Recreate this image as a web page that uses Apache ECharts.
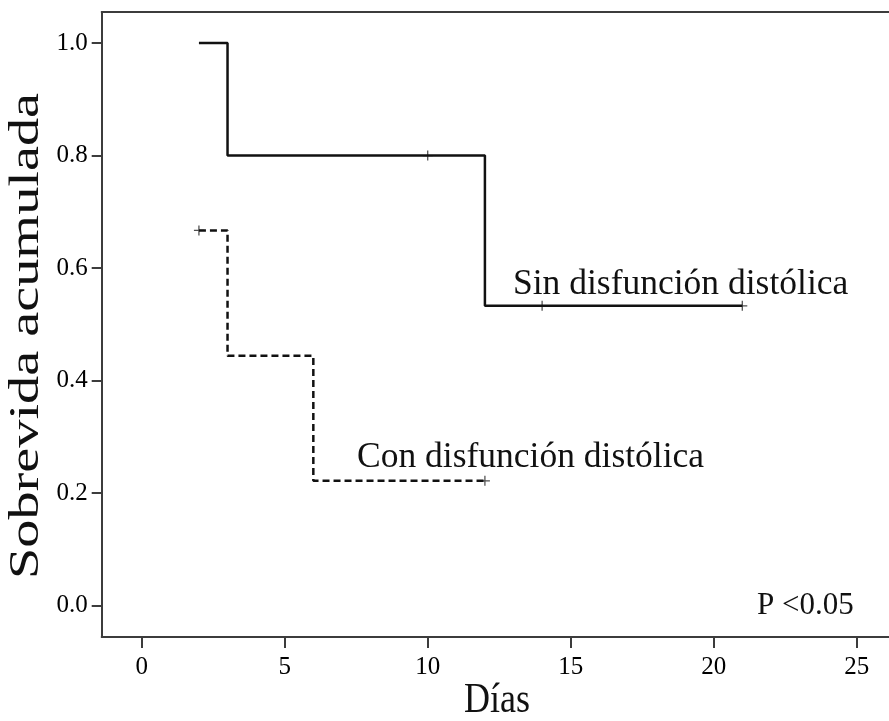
<!DOCTYPE html>
<html>
<head>
<meta charset="utf-8">
<script src="https://cdn.jsdelivr.net/npm/echarts@6/dist/echarts.min.js"></script>
<style>
html,body{margin:0;padding:0;background:#fff;}
#chart{width:889px;height:721px;}
</style>
</head>
<body>
<div id="chart"></div>
<script>
// Data
const sinTimes = [2, 3, 12, 21];
const sinSurv = [1.0, 0.8, 0.533, 0.533];
const sinCensorTimes = [10, 14, 21];
const sinCensorSurv = [0.8, 0.533, 0.533];

const conTimes = [2, 3, 6, 12];
const conSurv = [0.667, 0.444, 0.222, 0.222];
const conCensorTimes = [2, 12];
const conCensorSurv = [0.667, 0.222];

const xTicks = [0, 5, 10, 15, 20, 25];
const yTicks = [0.0, 0.2, 0.4, 0.6, 0.8, 1.0];

const labelSin = 'Sin disfunción distólica';
const labelCon = 'Con disfunción distólica';
const pText = 'P <0.05';
const xTitle = 'Días';
const yTitle = 'Sobrevida acumulada';

const zip = (a, b) => a.map((v, i) => [v, b[i]]);
const serif = '"Liberation Serif", "DejaVu Serif", serif';
const plus = 'path://M7,0 h2 v7 h7 v2 h-7 v7 h-2 v-7 h-7 v-2 h7 z';
const axisColor = '#3c3c3c';

const chart = echarts.init(document.getElementById('chart'));
chart.setOption({
  animation: false,
  backgroundColor: '#fff',
  grid: { left: 101.7, top: 12, right: 0, bottom: 84 },
  xAxis: [{
    type: 'value', min: -1.4, max: 26.13,
    axisLine: { show: true, onZero: false, lineStyle: { color: axisColor, width: 2 } },
    axisTick: { show: true, customValues: xTicks, length: 11, lineStyle: { color: axisColor, width: 2 } },
    axisLabel: { customValues: xTicks, color: '#000', fontFamily: serif, fontSize: 25, margin: 18 },
    splitLine: { show: false }
  }, {
    type: 'value', position: 'top', min: -1.4, max: 26.13,
    axisLine: { show: true, onZero: false, lineStyle: { color: axisColor, width: 2 } },
    axisTick: { show: false }, axisLabel: { show: false }, splitLine: { show: false }
  }],
  yAxis: {
    type: 'value', min: -0.0556, max: 1.0551,
    axisLine: { show: true, onZero: false, lineStyle: { color: axisColor, width: 2 } },
    axisTick: { show: true, customValues: yTicks, length: 10, lineStyle: { color: axisColor, width: 2 } },
    axisLabel: { customValues: yTicks, color: '#000', fontFamily: serif, fontSize: 25, margin: 14,
      formatter: v => v.toFixed(1) },
    splitLine: { show: false }
  },
  series: [
    { type: 'line', step: 'end', data: zip(sinTimes, sinSurv), symbol: 'none',
      lineStyle: { color: '#111', width: 2.5 } },
    { type: 'line', step: 'end', data: zip(conTimes, conSurv), symbol: 'none',
      lineStyle: { color: '#111', width: 2.5, type: [7, 4] } },
    { type: 'scatter', data: zip(sinCensorTimes, sinCensorSurv), symbol: plus, symbolSize: 10,
      itemStyle: { color: '#222' } },
    { type: 'scatter', data: zip(conCensorTimes, conCensorSurv), symbol: plus, symbolSize: 10,
      itemStyle: { color: '#222' } }
  ],
  graphic: [
    { type: 'text', left: 513, top: 267, style: { text: labelSin, font: '35.5px ' + serif, fill: '#111' } },
    { type: 'text', left: 357, top: 440, style: { text: labelCon, font: '35.5px ' + serif, fill: '#111' } },
    { type: 'text', left: 757, top: 590, style: { text: pText, font: '31px ' + serif, fill: '#111' } },
    { type: 'text', x: 497, y: 701, scaleY: 1.15, style: { text: xTitle, font: '36px ' + serif, fill: '#111', align: 'center', verticalAlign: 'middle' } },
    { type: 'text', x: 27, y: 336, rotation: Math.PI / 2, scaleX: 1.34, style: { text: yTitle, font: '42px ' + serif, fill: '#111', align: 'center', verticalAlign: 'middle' } }
  ]
});
</script>
</body>
</html>
